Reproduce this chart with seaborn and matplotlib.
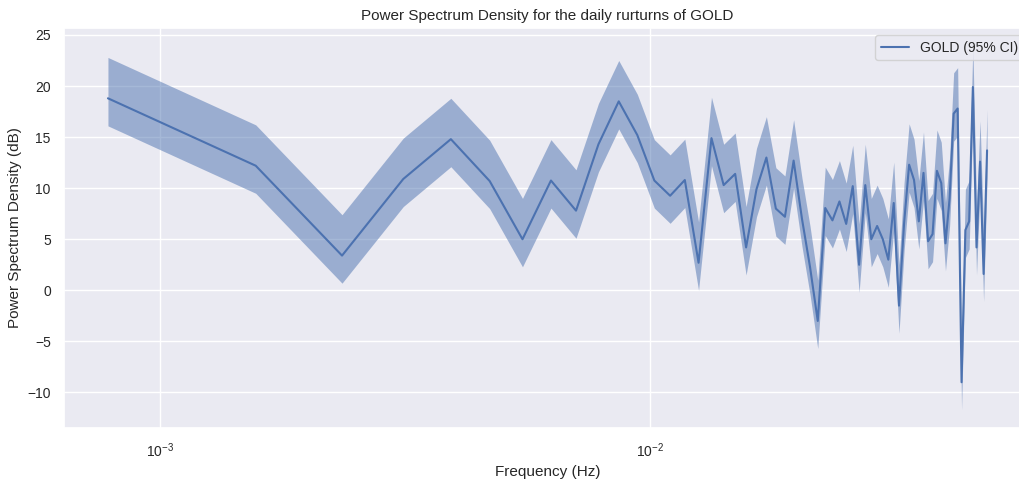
import numpy as np
import pandas as pd
import seaborn as sns
import matplotlib.pyplot as plt

# --- Data ---
FREQS = [
    0.000784, 0.001569, 0.002353, 0.003137, 0.003922, 0.004706, 0.005490, 0.006275,
    0.007059, 0.007843, 0.008627, 0.009412, 0.010196, 0.010980, 0.011765, 0.012549,
    0.013333, 0.014118, 0.014902, 0.015686, 0.016471, 0.017255, 0.018039, 0.018824,
    0.019608, 0.020392, 0.021176, 0.021961, 0.022745, 0.023529, 0.024314, 0.025098,
    0.025882, 0.026667, 0.027451, 0.028235, 0.029020, 0.029804, 0.030588, 0.031373,
    0.032157, 0.032941, 0.033725, 0.034510, 0.035294, 0.036078, 0.036863, 0.037647,
    0.038431, 0.039216, 0.040000, 0.040784, 0.041569, 0.042353, 0.043137, 0.043922,
    0.044706, 0.045490, 0.046275, 0.047059, 0.047843, 0.048627,
]
PSD_DB = [
    18.8, 12.2, 3.4, 10.9, 14.8, 10.7, 5.0, 10.75,
    7.8, 14.3, 18.5, 15.2, 10.75, 9.26, 10.8, 2.7,
    14.9, 10.3, 11.4, 4.2, 9.9, 13.0, 8.0, 7.2,
    12.7, 7.0, 2.3, -3.0, 8.06, 6.85, 8.7, 6.5,
    10.2, 2.5, 10.3, 5.0, 6.3, 5.0, 3.0, 8.55,
    -1.5, 6.6, 12.3, 10.8, 6.75, 11.5, 4.8, 5.5,
    11.7, 10.5, 4.6, 9.0, 17.3, 17.8, -9.0, 5.9,
    6.75, 19.9, 4.2, 12.6, 1.6, 13.7,
]
# chi-square based 95% CI is a constant offset in dB
CI_UPPER_DB = 4.0
CI_LOWER_DB = 2.7

SERIES_NAME = 'GOLD'

sns.set_theme(style='darkgrid')
plt.rcParams['font.family'] = ['Liberation Sans', 'DejaVu Sans']
plt.rcParams['mathtext.fontset'] = 'custom'
plt.rcParams['mathtext.rm'] = 'Liberation Sans'
plt.rcParams['mathtext.it'] = 'Liberation Sans:italic'

df = pd.DataFrame({'freq': FREQS, 'psd': PSD_DB})
df['lower'] = df['psd'] - CI_LOWER_DB
df['upper'] = df['psd'] + CI_UPPER_DB

fig = plt.figure(figsize=(10.19, 4.84), dpi=100)
# axes run a little past the right edge, like the cropped original
ax = fig.add_axes([0.0628, 0.1157, 0.949, 0.8264])

color = sns.color_palette('deep')[0]
sns.lineplot(data=df, x='freq', y='psd', ax=ax, color=color,
             label=f'{SERIES_NAME} (95% CI)')
ax.fill_between(df['freq'], df['lower'], df['upper'], color=color, alpha=0.5,
                linewidth=0)

ax.set_xscale('log')
ax.set_title(f'Power Spectrum Density for the daily rurturns of {SERIES_NAME}',
             fontsize=11)
ax.set_xlabel('Frequency (Hz)', fontsize=11)
ax.set_ylabel('Power Spectrum Density (dB)', fontsize=11)
ax.tick_params(labelsize=10)
# keep the whole legend text inside the figure
ax.legend(loc='upper right', bbox_to_anchor=(0.9995, 1.0), fontsize=10)

fig.savefig('out.png', dpi=100)
